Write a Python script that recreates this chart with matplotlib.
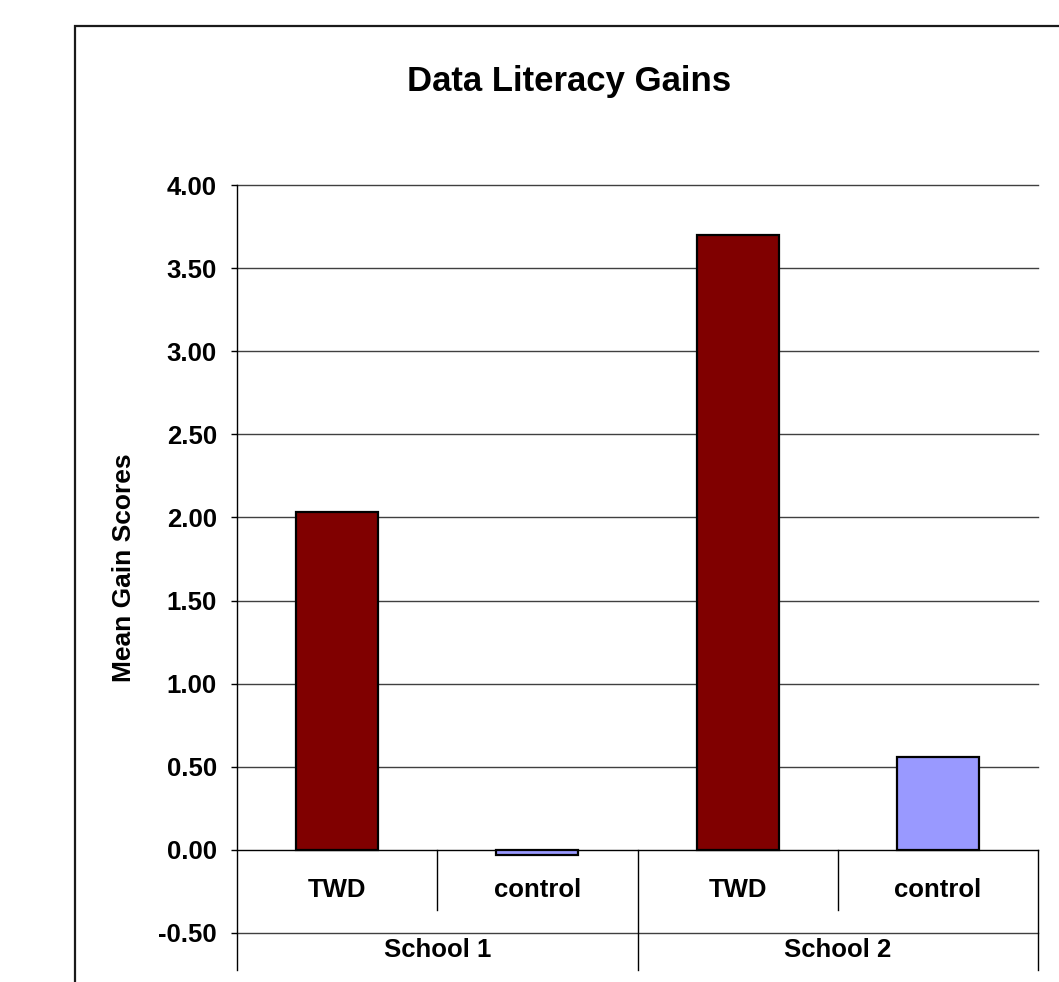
import numpy as np
import matplotlib
matplotlib.use('Agg')
from matplotlib import pyplot as plt
from matplotlib.patches import Rectangle

plt.rcParams['font.family'] = ['Liberation Sans', 'DejaVu Sans']
plt.rcParams['font.weight'] = 'bold'

# Mean gain scores per school and group
schools = ['School 1', 'School 2']
groups = ['TWD', 'control']
twd_gain = [2.03, 3.70]
control_gain = [-0.03, 0.56]
yticks = np.arange(-0.5, 4.01, 0.5)

W, H = 1059, 982
fig = plt.figure(figsize=(W / 100, H / 100), dpi=100)

# plot area in pixels: x 237..1038, y 185 (4.00) .. 933 (-0.50)
ax = fig.add_axes([237 / W, 1 - 933 / H, (1038 - 237) / W, (933 - 185) / H])
ax.set_xlim(-0.5, 3.5)
ax.set_ylim(-0.5, 4.0)

gains = []
colors = []
for t, c in zip(twd_gain, control_gain):
    gains += [t, c]
    colors += ['#800000', '#9999ff']
xpos = np.arange(len(gains))

for y in yticks:
    ax.axhline(y, color='#404040' if y != 0 else 'black', lw=1.0, zorder=1, clip_on=False)

ax.bar(xpos, gains, width=0.41, color=colors, edgecolor='black', linewidth=1.6, zorder=3)

for s in ax.spines.values():
    s.set_visible(False)

ax.set_yticks(yticks)
ax.set_yticklabels(['%.2f' % v for v in yticks])
ax.tick_params(axis='y', direction='out', length=4.5, width=1, pad=10, labelsize=18.5, color='black')
ax.set_xticks([])

# axis line and category divisions below the zero line
ybot = -0.5 - 37 / 166.2
ymid = -0.36
ax.plot([-0.5, -0.5], [4.0, ybot], color='black', lw=1.0, clip_on=False, zorder=4)
for xb in [1.5, 3.5]:
    ax.plot([xb, xb], [0, ybot], color='black', lw=1.0, clip_on=False, zorder=4)
for xb in [0.5, 2.5]:
    ax.plot([xb, xb], [0, ymid], color='black', lw=1.0, clip_on=False, zorder=4)

for i, x in enumerate(xpos):
    ax.text(x, -0.244, groups[i % 2], ha='center', va='center', fontsize=18.5, fontweight='bold')
for j, s in enumerate(schools):
    ax.text(2 * j + 0.5, -0.605, s, ha='center', va='center', fontsize=18.5,
            fontweight='bold', clip_on=False)

fig.text(569 / W, 1 - 81 / H, 'Data Literacy Gains', ha='center', va='center',
         fontsize=25, fontweight='bold')
fig.text(124 / W, 1 - 568 / H, 'Mean Gain Scores', ha='center', va='center',
         rotation=90, fontsize=19, fontweight='bold')

# chart area border, running off the right and bottom edges
top = 1 - 26 / H
fig.patches.append(Rectangle((75 / W, -0.2), 1.2, top + 0.2, fill=False,
                             edgecolor='#1a1a1a', lw=1.6, transform=fig.transFigure))

fig.savefig('out.png', dpi=100)
